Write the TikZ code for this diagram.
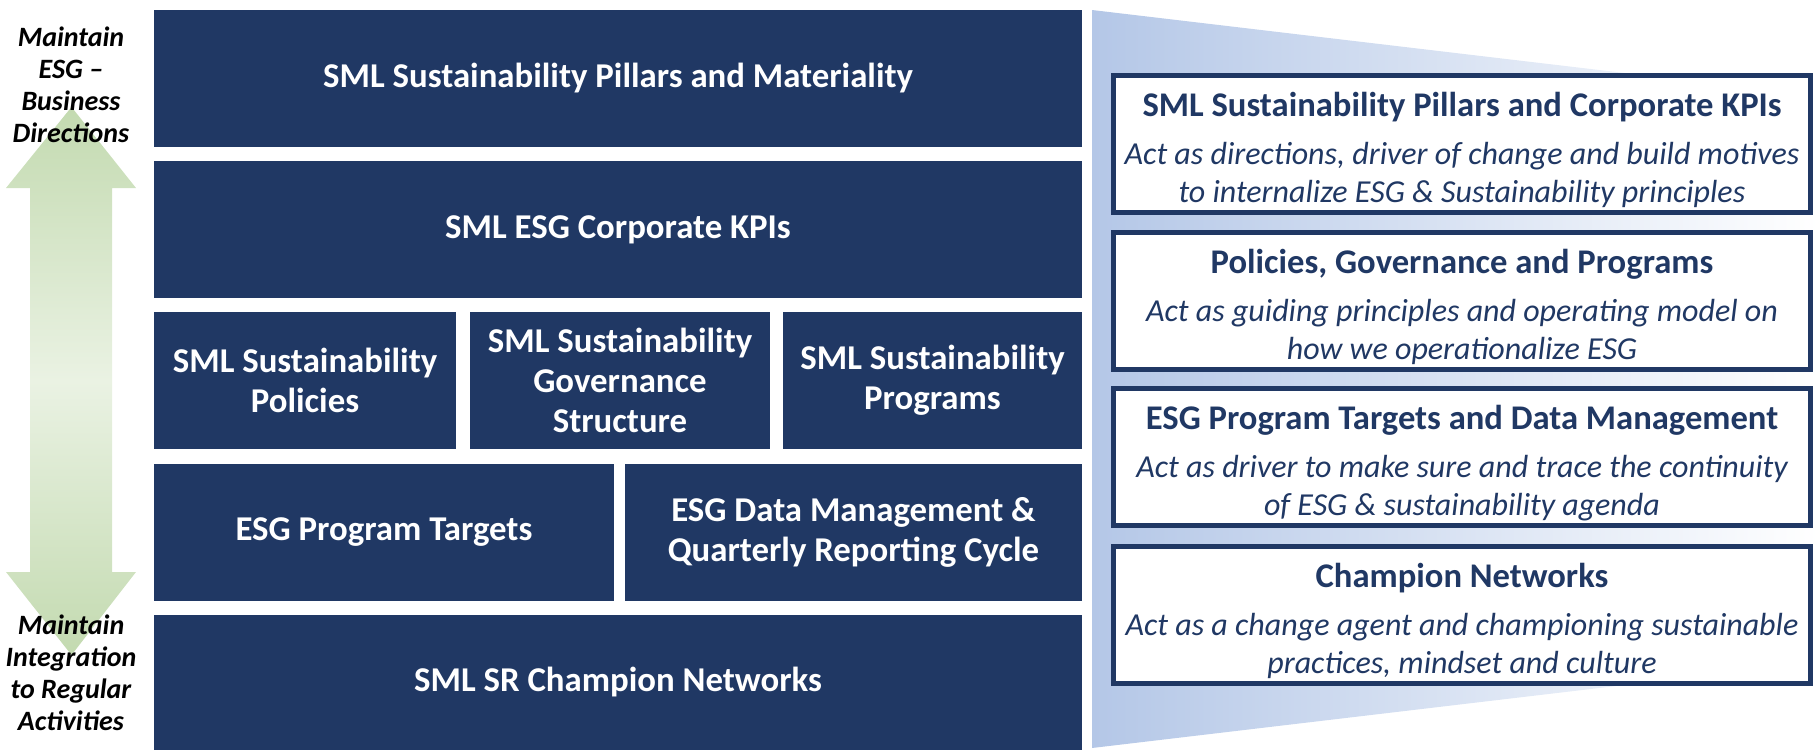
\documentclass[tikz,border=0pt]{standalone}
\usepackage{fontspec}
\setmainfont{Carlito}
\usepackage{tikz}

\definecolor{navy}{HTML}{203864}
\definecolor{paleblue}{HTML}{B4C7E7}
\definecolor{leafgreen}{HTML}{C3DAB0}
\definecolor{leaflight}{HTML}{EAF2E3}

\newcommand{\cardtitle}[1]{{\fontsize{17.3}{20}\selectfont\bfseries\upshape\rule{0pt}{18.5pt}#1}}

\tikzset{
  block/.style={fill=navy, text=white, align=center, inner sep=0pt,
    minimum height=68.5pt, font=\fontsize{17.4}{20}\selectfont\bfseries},
  card/.style={draw=navy, line width=2.5pt, fill=white, align=center,
    inner sep=0pt, minimum width=348.5pt, minimum height=68.5pt, text=navy,
    font=\fontsize{16}{19}\selectfont\itshape},
  side/.style={align=center, font=\fontsize{14}{16}\selectfont\bfseries\itshape}
}

\begin{document}
\begin{tikzpicture}[x=0.5pt,y=-0.5pt]
    \useasboundingbox (0,0) rectangle (1819,750);
    \shade[left color=paleblue, right color=white] (1092,10)-- (1819,96)--
        (1819,662)-- (1092,748)-- cycle;
    \shade[top color=leafgreen, bottom color=leafgreen, middle color=leaflight]
        (71.5,107)-- (136,188)-- (112,188)-- (112,572)-- (136,572)--
        (71.5,655)-- (6,572)-- (30,572)-- (30,188)-- (6,188)-- cycle;
    \node[side] (up) at (71,85) {Maintain\\ESG --\\Business\\Directions};
    \node[side] (down) at (71,673) {Maintain\\Integration\\to Regular\\Activities};

    \node[block, minimum width=464pt] (pillars) at (618,78.5)
        {SML Sustainability Pillars and Materiality};
    \node[block, minimum width=464pt] (kpis) at (618,229.5)
        {SML ESG Corporate KPIs};
    \node[block, minimum width=151pt] (policies) at (305,380.5)
        {SML Sustainability\\Policies};
    \node[block, minimum width=150pt] (governance) at (620,380.5)
        {SML Sustainability\\Governance\\Structure};
    \node[block, minimum width=149.5pt] (programs) at (932.5,380.5)
        {SML Sustainability\\Programs};
    \node[block, minimum width=230pt] (targets) at (384,532.5)
        {ESG Program Targets};
    \node[block, minimum width=228.5pt] (data) at (853.5,532.5)
        {ESG Data Management \&\\Quarterly Reporting Cycle};
    \node[block, minimum width=464pt, minimum height=67.5pt] (champions) at (618,682.5)
        {SML SR Champion Networks};

    \node[card] (c1) at (1462,144) {\cardtitle{SML Sustainability Pillars and Corporate KPIs}\\[5pt]
        Act as directions, driver of change and build motives\\
        to internalize ESG \& Sustainability principles};
    \node[card] (c2) at (1462,300.5) {\cardtitle{Policies, Governance and Programs}\\[5pt]
        Act as guiding principles and operating model on\\
        how we operationalize ESG};
    \node[card] (c3) at (1462,457) {\cardtitle{ESG Program Targets and Data Management}\\[5pt]
        Act as driver to make sure and trace the continuity\\
        of ESG \& sustainability agenda};
    \node[card] (c4) at (1462,615) {\cardtitle{Champion Networks}\\[5pt]
        Act as a change agent and championing sustainable\\
        practices, mindset and culture};
\end{tikzpicture}
\end{document}
